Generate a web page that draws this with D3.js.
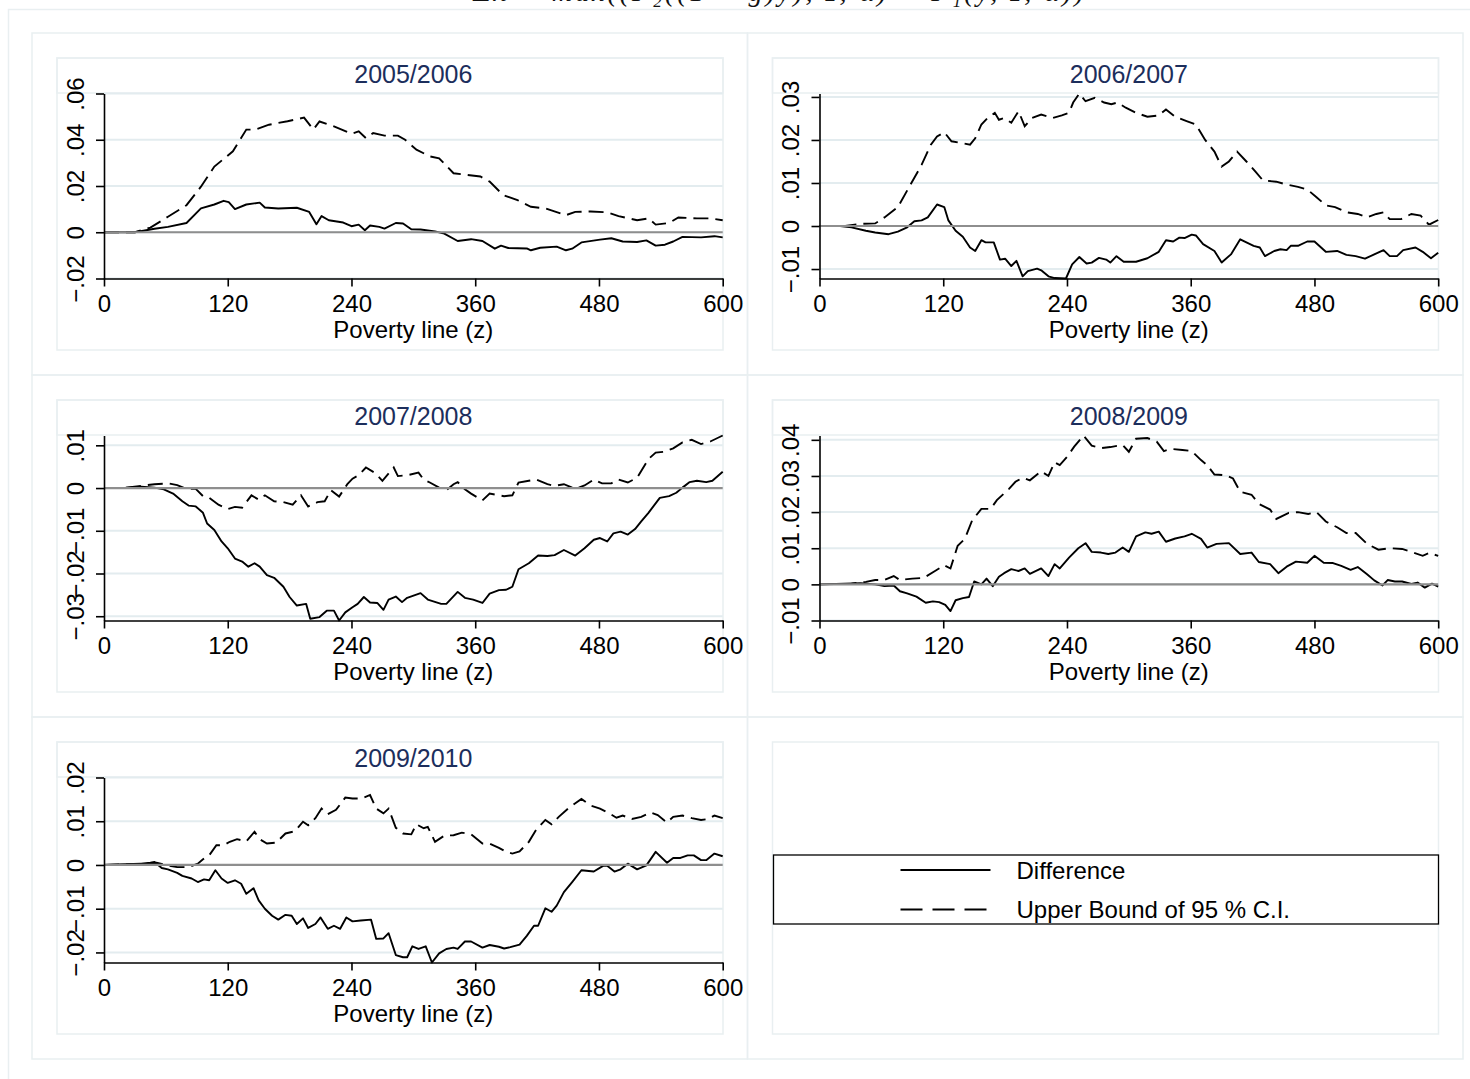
<!DOCTYPE html>
<html>
<head>
<meta charset="utf-8">
<script src="https://cdn.jsdelivr.net/npm/d3@7"></script>
<style>
  html, body { margin: 0; padding: 0; background: #fff; }
  svg { display: block; }
</style>
</head>
<body>
<script>
// Poverty dominance test: difference and upper CI bound by year pair

var xTicks = [0, 120, 240, 360, 480, 600];
var panelTitles = ['2005/2006', '2006/2007', '2007/2008', '2008/2009', '2009/2010'];
var legendLabels = ['Difference', 'Upper Bound of 95 % C.I.'];

var yTicks0506 = [-0.02, 0, 0.02, 0.04, 0.06];
var yTicks0607 = [-0.01, 0, 0.01, 0.02, 0.03];
var yTicks0708 = [-0.03, -0.02, -0.01, 0, 0.01];
var yTicks0809 = [-0.01, 0, 0.01, 0.02, 0.03, 0.04];
var yTicks0910 = [-0.02, -0.01, 0, 0.01, 0.02];

// [poverty line, value]
var diff0506 = [[0,0],[30,0],[49,.0015],[62,.0023],[80,.004],[94,.0103],[107,.012],[116,.0136],[121,.013],[127,.010],[138,.012],[151,.0128],[156,.0107],[169,.0103],[187,.0106],[199,.0088],[206,.0035],[211,.007],[218,.0052],[232,.0042],[240,.0026],[247,.0033],[253,.0009],[258,.0029],[267,.0023],[272,.0016],[283,.004],[290,.0038],[298,.0013],[307,.0012],[321,.0004],[330,-.0006],[343,-.0038],[356,-.003],[367,-.0038],[379,-.0071],[385,-.0058],[392,-.0068],[410,-.007],[414,-.0078],[423,-.0067],[439,-.0062],[448,-.0078],[454,-.0071],[463,-.0044],[481,-.0032],[492,-.0026],[503,-.004],[517,-.0042],[526,-.0035],[535,-.0058],[544,-.0054],[552,-.004],[561,-.002],[579,-.0022],[592,-.0017],[600,-.0022]];
var ub0506 = [[0,0],[30,0],[45,.002],[62,.0067],[80,.0117],[94,.0197],[107,.0284],[125,.035],[138,.0444],[147,.0444],[160,.0465],[178,.048],[194,.0496],[203,.0444],[209,.0479],[223,.0458],[240,.0426],[247,.0436],[254,.0407],[261,.0429],[272,.0418],[285,.0418],[292,.04],[303,.0357],[316,.0328],[325,.032],[339,.0255],[352,.0248],[365,.0241],[374,.0219],[387,.0161],[401,.0139],[414,.011],[428,.0103],[448,.0074],[457,.0088],[472,.009],[488,.0086],[499,.007],[517,.0052],[528,.006],[535,.0033],[548,.004],[557,.0064],[575,.006],[588,.006],[600,.0052]];

var diff0607 = [[0,0],[20,0],[31,-.0003],[45,-.0011],[54,-.0015],[67,-.0019],[76,-.0013],[85,-.0003],[92,.0011],[99,.0013],[105,.002],[114,.005],[121,.0044],[125,.0013],[132,-.0011],[139,-.0025],[146,-.005],[151,-.0058],[157,-.0033],[161,-.0038],[169,-.0038],[175,-.0078],[180,-.0076],[186,-.0093],[191,-.0081],[197,-.0117],[202,-.0105],[211,-.0099],[215,-.0103],[222,-.0117],[228,-.0121],[239,-.0122],[245,-.0089],[252,-.0072],[259,-.0087],[264,-.0085],[271,-.0074],[278,-.0078],[282,-.0085],[288,-.007],[295,-.0083],[307,-.0083],[318,-.0075],[329,-.006],[336,-.0033],[343,-.0036],[349,-.0027],[354,-.0028],[361,-.002],[365,-.0022],[372,-.0042],[383,-.0058],[390,-.0085],[399,-.0066],[408,-.0031],[414,-.0038],[421,-.0046],[427,-.005],[432,-.007],[441,-.0058],[447,-.0054],[453,-.0056],[457,-.0046],[464,-.0046],[473,-.0036],[480,-.0036],[491,-.006],[502,-.0058],[511,-.0067],[520,-.007],[529,-.0076],[538,-.0066],[547,-.0056],[553,-.007],[560,-.007],[566,-.0056],[578,-.005],[585,-.006],[593,-.0075],[600,-.0062]];
var ub0607 = [[0,0],[25,0],[40,.0005],[54,.0006],[63,.002],[76,.0044],[87,.0091],[99,.0142],[108,.0189],[114,.0208],[121,.0218],[128,.0197],[137,.0193],[146,.0189],[151,.0204],[157,.0236],[163,.0251],[170,.0263],[174,.0247],[179,.0251],[186,.024],[193,.0267],[199,.0232],[206,.0251],[215,.0259],[226,.0251],[235,.0257],[242,.0263],[246,.0287],[252,.0308],[258,.029],[267,.0298],[276,.0287],[283,.0283],[289,.0287],[297,.0275],[307,.0263],[318,.0254],[329,.0257],[336,.0271],[345,.0254],[356,.0244],[365,.0236],[374,.02],[383,.0173],[390,.0138],[397,.015],[405,.0173],[414,.015],[423,.0126],[430,.0106],[443,.0103],[452,.0097],[464,.0091],[473,.0085],[482,.0067],[491,.0048],[500,.0044],[511,.0032],[522,.0028],[531,.002],[540,.0028],[547,.0032],[553,.0016],[564,.0016],[574,.0028],[583,.0024],[591,.0003],[600,.0014]];

var diff0708 = [[0,0],[20,0],[36,.0003],[49,.0001],[58,-.0003],[67,-.0013],[76,-.0031],[82,-.0041],[89,-.0043],[96,-.0058],[100,-.0083],[107,-.0098],[114,-.0125],[120,-.0141],[127,-.0165],[134,-.0172],[140,-.0184],[146,-.0176],[151,-.0184],[158,-.0204],[165,-.021],[174,-.0231],[180,-.0255],[187,-.0275],[196,-.0271],[200,-.0306],[209,-.0302],[216,-.0287],[223,-.0287],[228,-.031],[234,-.0291],[241,-.0279],[246,-.0271],[252,-.0255],[258,-.0268],[265,-.0269],[271,-.0285],[276,-.0261],[283,-.0254],[289,-.0267],[294,-.0257],[307,-.0246],[314,-.0261],[327,-.0271],[332,-.0271],[343,-.0243],[350,-.0257],[358,-.0261],[367,-.0269],[374,-.0247],[383,-.0239],[390,-.0238],[396,-.0231],[402,-.019],[412,-.0176],[421,-.0158],[430,-.0159],[437,-.0157],[446,-.0145],[457,-.0158],[466,-.0141],[475,-.0121],[481,-.0117],[488,-.0125],[494,-.0106],[501,-.0102],[508,-.0109],[515,-.0096],[521,-.0078],[528,-.0058],[539,-.0023],[548,-.0019],[555,-.0011],[561,.0001],[568,.0014],[575,.0017],[584,.0014],[590,.0017],[600,.0038]];
var ub0708 = [[0,0],[18,0],[36,.0005],[49,.0009],[62,.0011],[71,.0007],[80,-.0002],[89,-.0002],[96,-.0019],[102,-.0023],[111,-.0039],[120,-.0049],[127,-.0044],[134,-.0046],[143,-.0017],[150,-.0027],[156,-.0017],[165,-.0031],[174,-.0033],[183,-.0039],[191,-.0017],[198,-.0043],[207,-.0033],[214,-.0031],[220,-.0005],[228,-.002],[236,.0009],[241,.0022],[247,.003],[254,.0048],[263,.0035],[270,.0017],[281,.0048],[285,.0028],[294,.003],[305,.0036],[310,.002],[316,.0013],[325,.0001],[332,-.0005],[339,.0009],[343,.0014],[350,-.0003],[356,-.0013],[367,-.0029],[374,-.0013],[388,-.0019],[396,-.0017],[402,.0013],[412,.0017],[419,.002],[430,.0009],[437,.0005],[446,.0009],[457,-.0002],[466,.0006],[475,.002],[483,.0011],[492,.0011],[499,.002],[508,.0013],[517,.0024],[528,.0068],[535,.0083],[543,.0085],[552,.0093],[561,.0107],[570,.0113],[579,.0103],[588,.0109],[600,.0123]];

var diff0809 = [[0,0],[40,.0003],[54,0],[63,-.0005],[72,-.0003],[78,-.0019],[85,-.0025],[94,-.0034],[103,-.0051],[110,-.0047],[116,-.0049],[122,-.0057],[127,-.0074],[132,-.0044],[139,-.0038],[145,-.0035],[150,.0008],[157,0],[162,.0016],[168,-.0005],[174,.0021],[179,.0031],[186,.0042],[193,.0037],[199,.0044],[204,.0029],[215,.0044],[222,.0023],[228,.0056],[233,.0044],[242,.0074],[251,.01],[258,.0114],[264,.009],[273,.0088],[280,.0084],[287,.0088],[294,.0102],[300,.009],[307,.0133],[316,.0144],[322,.014],[329,.0146],[336,.0118],[345,.0127],[354,.0133],[361,.014],[370,.0126],[376,.0102],[385,.0112],[397,.0114],[408,.0084],[419,.0088],[426,.0062],[437,.0056],[445,.0031],[453,.0049],[462,.0063],[473,.006],[480,.0079],[489,.006],[498,.0059],[506,.0051],[515,.004],[522,.0048],[531,.0028],[538,.0011],[546,-.0003],[551,.0012],[558,.0008],[565,.0008],[574,.0001],[580,.0005],[587,-.0009],[594,.0002],[600,-.0006]];
var ub0809 = [[0,0],[31,.0002],[45,.0007],[54,.0012],[63,.0012],[72,.0023],[78,.0012],[90,.0016],[101,.0018],[112,.0037],[121,.0053],[127,.0044],[134,.0107],[141,.0126],[148,.0177],[157,.0209],[166,.0209],[172,.0233],[184,.0265],[190,.0284],[197,.0295],[204,.0288],[215,.0313],[222,.03],[228,.0338],[233,.033],[240,.0353],[247,.0381],[256,.0412],[264,.0384],[273,.0377],[282,.038],[294,.0386],[300,.0367],[307,.0403],[318,.0405],[327,.0395],[334,.0369],[341,.0375],[352,.0372],[361,.0369],[370,.0344],[376,.033],[383,.0304],[394,.0302],[401,.0293],[408,.0256],[419,.0248],[426,.0223],[437,.0207],[443,.0181],[455,.0198],[464,.02],[474,.0195],[482,.02],[491,.0174],[502,.0158],[511,.0142],[520,.0142],[531,.0112],[542,.0096],[553,.01],[565,.0098],[576,.0088],[585,.0079],[591,.0087],[600,.0079]];

var diff0910 = [[0,0],[18,.0002],[36,.0003],[45,.0005],[49,.0007],[56,-.0007],[62,-.001],[71,-.0018],[76,-.0025],[85,-.0031],[91,-.0039],[97,-.0033],[102,-.0035],[108,-.0012],[114,-.0031],[120,-.0041],[127,-.0035],[133,-.0043],[138,-.0066],[145,-.0053],[150,-.0081],[156,-.01],[163,-.0116],[169,-.0125],[176,-.0114],[182,-.0116],[187,-.0135],[193,-.0122],[198,-.0144],[205,-.0135],[210,-.012],[217,-.0146],[223,-.0139],[229,-.0146],[235,-.012],[241,-.0129],[249,-.0127],[259,-.0125],[264,-.0169],[271,-.0168],[276,-.0156],[283,-.0206],[290,-.0211],[294,-.0211],[299,-.0186],[305,-.0192],[312,-.0186],[318,-.0223],[325,-.0202],[332,-.0192],[339,-.0189],[343,-.0192],[350,-.0175],[356,-.0175],[367,-.0189],[374,-.0183],[383,-.0187],[388,-.0191],[394,-.0188],[403,-.0182],[410,-.0162],[417,-.0139],[421,-.0139],[428,-.0099],[434,-.0107],[439,-.0093],[446,-.0062],[454,-.0039],[463,-.0012],[475,-.0015],[484,-.0002],[488,-.0002],[495,-.0015],[501,-.001],[508,.0003],[517,-.001],[526,-.0001],[535,.003],[546,.0005],[552,.0016],[559,.0016],[566,.0022],[572,.0022],[579,.0011],[584,.0011],[592,.0026],[600,.002]];
var ub0910 = [[0,0],[40,.0003],[51,.0005],[62,-.0001],[71,-.0005],[82,-.0005],[91,.0003],[96,.0013],[102,.0022],[109,.0045],[116,.0045],[122,.0053],[129,.0059],[138,.0054],[146,.0076],[151,.0059],[158,.0049],[167,.0051],[176,.0072],[185,.0077],[193,.0099],[198,.0091],[205,.0107],[211,.0129],[217,.0116],[225,.0126],[234,.0154],[241,.0152],[250,.0152],[258,.016],[264,.0129],[271,.0118],[276,.0129],[283,.0085],[290,.0072],[298,.007],[303,.0093],[310,.0084],[314,.0087],[321,.0053],[330,.0067],[339,.0068],[347,.0074],[356,.007],[367,.0049],[374,.0049],[383,.0039],[390,.003],[396,.0026],[403,.0031],[412,.0053],[419,.008],[428,.0103],[434,.0093],[441,.011],[450,.0129],[463,.0151],[472,.0136],[481,.0129],[490,.0118],[497,.0108],[503,.0113],[512,.0105],[521,.011],[530,.012],[537,.0114],[546,.0097],[552,.011],[561,.0113],[570,.0107],[579,.0103],[586,.0105],[592,.0113],[600,.0107]];

var panels = [
  { title: panelTitles[0], ticks: yTicks0506, diff: diff0506, ub: ub0506 },
  { title: panelTitles[1], ticks: yTicks0607, diff: diff0607, ub: ub0607 },
  { title: panelTitles[2], ticks: yTicks0708, diff: diff0708, ub: ub0708 },
  { title: panelTitles[3], ticks: yTicks0809, diff: diff0809, ub: ub0809 },
  { title: panelTitles[4], ticks: yTicks0910, diff: diff0910, ub: ub0910 }
];

var W = 1470, H = 1079;
var FONT = '"Liberation Sans", Arial, Helvetica, sans-serif';
var frameColor = '#e9eff1';
var gridColor = '#e3ecef';
var titleColor = '#1c2e5c';
var dashPattern = '15,7';

var svg = d3.select('body').append('svg')
  .attr('width', W)
  .attr('height', H)
  .style('font-family', FONT);

// caption above the figure; only its lower edge falls inside the picture
svg.append('text')
  .attr('x', 780)
  .attr('y', 1)
  .attr('text-anchor', 'middle')
  .style('font-family', '"Liberation Serif", "Times New Roman", serif')
  .style('font-style', 'italic')
  .style('font-size', '28px')
  .style('letter-spacing', '3px')
  .style('fill', '#111')
  .text('Δπ = max((F\u2082((1 − g)y), z, α) − F\u2081(y, z, α))');

// outer frame
svg.append('rect')
  .attr('x', 8.5).attr('y', 9.5)
  .attr('width', W - 2).attr('height', H + 10)
  .style('fill', 'none').style('stroke', frameColor).style('stroke-width', 1.5);

var cellW = 715.5, cellH = 342, gridX = 32, gridY = 33;

function fmtTick(v) {
  if (Math.abs(v) < 1e-12) return '0';
  var s = Math.abs(v).toFixed(2).replace(/^0/, '');
  return (v < 0 ? '\u2212' : '') + s;
}

var line = d3.line()
  .x(function(d) { return d[0]; })
  .y(function(d) { return d[1]; });

function drawCellFrame(g) {
  g.append('rect')
    .attr('x', 0).attr('y', 0)
    .attr('width', cellW).attr('height', cellH)
    .style('fill', 'none').style('stroke', frameColor).style('stroke-width', 1.5);
  g.append('rect')
    .attr('x', 25).attr('y', 25)
    .attr('width', 666).attr('height', 292)
    .style('fill', 'none').style('stroke', frameColor).style('stroke-width', 1.5);
}

function drawPanel(p, i) {
  var col = i % 2, row = Math.floor(i / 2);
  var g = svg.append('g')
    .attr('transform', 'translate(' + (gridX + col * cellW) + ',' + (gridY + row * cellH) + ')');

  drawCellFrame(g);

  // title box
  g.append('rect')
    .attr('x', 25).attr('y', 25)
    .attr('width', 666).attr('height', 35)
    .style('fill', 'none').style('stroke', frameColor).style('stroke-width', 1.5);

  var all = p.diff.concat(p.ub).map(function(d) { return d[1]; });
  var lo = Math.min(d3.min(all), d3.min(p.ticks));
  var hi = Math.max(d3.max(all), d3.max(p.ticks));

  var x = d3.scaleLinear().domain([0, 600]).range([72, 690.7]);
  var y = d3.scaleLinear().domain([lo, hi]).range([245.5, 60.5]);

  g.append('text')
    .attr('x', (x.range()[0] + x.range()[1]) / 2)
    .attr('y', 50)
    .attr('text-anchor', 'middle')
    .style('font-size', '25px')
    .style('fill', titleColor)
    .text(p.title);

  // gridlines
  g.append('g').selectAll('line')
    .data(p.ticks)
    .join('line')
    .attr('x1', x(0)).attr('x2', x(600))
    .attr('y1', function(d) { return y(d); })
    .attr('y2', function(d) { return y(d); })
    .style('stroke', gridColor)
    .style('stroke-width', 2);

  var toPx = function(arr) { return arr.map(function(d) { return [x(d[0]), y(d[1])]; }); };

  g.append('path')
    .attr('d', line(toPx(p.ub)))
    .style('fill', 'none').style('stroke', '#000')
    .style('stroke-width', 1.9)
    .style('stroke-dasharray', dashPattern);

  g.append('path')
    .attr('d', line(toPx(p.diff)))
    .style('fill', 'none').style('stroke', '#000')
    .style('stroke-width', 1.9)
    .style('stroke-linejoin', 'round');

  // reference line at zero
  g.append('line')
    .attr('x1', x(0)).attr('x2', x(600))
    .attr('y1', y(0)).attr('y2', y(0))
    .style('stroke', '#8e8e8e')
    .style('stroke-width', 2.2);

  // axes
  var yAxis = g.append('g')
    .attr('transform', 'translate(' + x(0) + ',0)')
    .call(d3.axisLeft(y).tickValues(p.ticks).tickFormat(fmtTick).tickSize(8).tickSizeOuter(0));
  yAxis.selectAll('text')
    .attr('transform', 'rotate(-90)')
    .attr('x', 0).attr('y', -20.5).attr('dy', 0)
    .attr('text-anchor', 'middle');

  var xAxis = g.append('g')
    .attr('transform', 'translate(0,' + y(lo) + ')')
    .call(d3.axisBottom(x).tickValues(xTicks).tickSize(8).tickSizeOuter(0));
  xAxis.selectAll('text').attr('y', 279 - y(lo)).attr('dy', 0);

  [yAxis, xAxis].forEach(function(a) {
    a.select('.domain').style('stroke', '#000').style('stroke-width', 1.6);
    a.selectAll('.tick line').style('stroke', '#000').style('stroke-width', 1.6);
    a.selectAll('text')
      .style('font-family', FONT)
      .style('font-size', '24px')
      .style('fill', '#000');
  });

  g.append('text')
    .attr('x', (x.range()[0] + x.range()[1]) / 2)
    .attr('y', 305)
    .attr('text-anchor', 'middle')
    .style('font-size', '24px')
    .style('fill', '#000')
    .text('Poverty line (z)');
}

panels.forEach(drawPanel);

// legend cell
var lg = svg.append('g')
  .attr('transform', 'translate(' + (gridX + cellW) + ',' + (gridY + 2 * cellH) + ')');
drawCellFrame(lg);

var legendStyles = ['none', '22,10'];
var legBox = { x: 26, y: 138, w: 665, h: 69 };
lg.append('rect')
  .attr('x', legBox.x).attr('y', legBox.y)
  .attr('width', legBox.w).attr('height', legBox.h)
  .style('fill', '#fff').style('stroke', '#000').style('stroke-width', 1.3);

var rows = lg.selectAll('g.leg')
  .data(legendLabels)
  .join('g')
  .attr('class', 'leg')
  .attr('transform', function(d, i) { return 'translate(0,' + (153 + i * 39.5) + ')'; });

rows.append('line')
  .attr('x1', 153).attr('x2', 243)
  .attr('y1', 0).attr('y2', 0)
  .style('stroke', '#000')
  .style('stroke-width', 1.9)
  .style('stroke-dasharray', function(d, i) { return legendStyles[i]; });

rows.append('text')
  .attr('x', 269)
  .attr('y', 8.5)
  .style('font-size', '24px')
  .style('fill', '#000')
  .text(function(d) { return d; });
</script>
</body>
</html>
